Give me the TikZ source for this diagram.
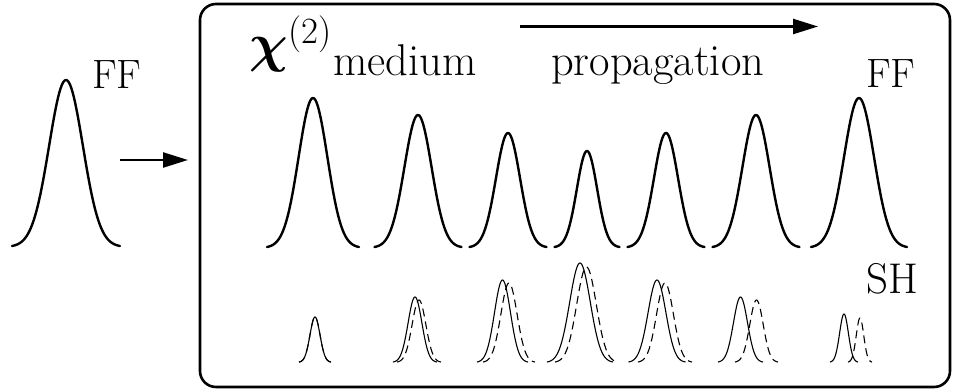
\documentclass[tikz,border=0pt]{standalone}
\usepackage{amsmath}
\usepackage{graphicx}
\usetikzlibrary{arrows.meta}
\newcommand{\gpulse}[5][]{%
  \draw[#1] plot[domain=-1:1,samples=81,variable=\t]
    ({#2+#5*(\t)},{#3-#4*(exp(-5.12*(\t)*(\t))-0.006)/0.994});}
\begin{document}
\begin{tikzpicture}[x=1pt,y=-1pt,
  ffline/.style={line width=2.4pt,line cap=round,line join=round},
  shline/.style={line width=1.1pt},
  shdash/.style={line width=1.1pt,dash pattern=on 8pt off 5pt},
  bigarrow/.style={line width=2.4pt,-{Triangle[length=25pt,width=15pt]}},
  caplbl/.style={inner sep=0pt,font=\fontsize{41}{46}\selectfont},
  wordlbl/.style={inner sep=0pt,font=\fontsize{44.5}{50}\selectfont}]
\useasboundingbox (0,0) rectangle (954,391);
% medium box
\draw[line width=2.6pt,rounded corners=16pt] (200,4) rectangle (950,387);
% nodes / anchors
\coordinate (inL) at (120,160);
\coordinate (inR) at (188,160);
\coordinate (prL) at (520,26.5);
\coordinate (prR) at (818,26.5);
\draw[bigarrow] (inL) -- (inR);
\draw[bigarrow] (prL) -- (prR);
% labels
\node[caplbl,anchor=base west] (ffin) at (92,88) {FF};
\node[inner sep=0pt,anchor=center] (chi) at (269,55) {\scalebox{2.6}{\fontsize{20}{24}\selectfont$\boldsymbol{\chi}$}};
\node[inner sep=0pt,anchor=center,font=\fontsize{37}{42}\selectfont] (two) at (310,34) {(2)};
\node[wordlbl,anchor=base west] (med) at (333,75) {medium};
\node[wordlbl,anchor=base west] (prop) at (551,75) {propagation};
\node[caplbl,anchor=base west] (ffout) at (866,87) {FF};
\node[caplbl,anchor=base west,font=\fontsize{43}{48}\selectfont] (sh) at (866,293) {SH};
% input pulse
\gpulse[ffline]{66}{246}{166}{54}
% FF pulses in medium
\gpulse[ffline]{313}{247}{149}{46}
\gpulse[ffline]{418}{247}{132}{43.5}
\gpulse[ffline]{508}{247}{114}{38.5}
\gpulse[ffline]{587}{247}{96}{32.5}
\gpulse[ffline]{666}{247}{114}{38.5}
\gpulse[ffline]{756}{247}{132}{43.5}
\gpulse[ffline]{859}{247}{149}{48}
% SH pulses: solid
\gpulse[shline]{315}{362}{45}{16}
\gpulse[shline]{415}{362}{65}{22}
\gpulse[shline]{502.5}{362}{82}{25.5}
\gpulse[shline]{580}{362}{99}{33}
\gpulse[shline]{657}{362}{82}{28.5}
\gpulse[shline]{740.5}{362}{65}{22.5}
\gpulse[shline]{844}{362}{48}{14}
% SH pulses: dashed
\gpulse[shdash]{315}{362}{45}{16}
\gpulse[shdash]{419}{362}{62}{22}
\gpulse[shdash]{509}{362}{79}{26}
\gpulse[shdash]{586.5}{362}{95}{31.5}
\gpulse[shdash]{665}{362}{79}{27}
\gpulse[shdash]{756.5}{362}{62}{21.5}
\gpulse[shdash]{860}{362}{44}{12}
\end{tikzpicture}
\end{document}
